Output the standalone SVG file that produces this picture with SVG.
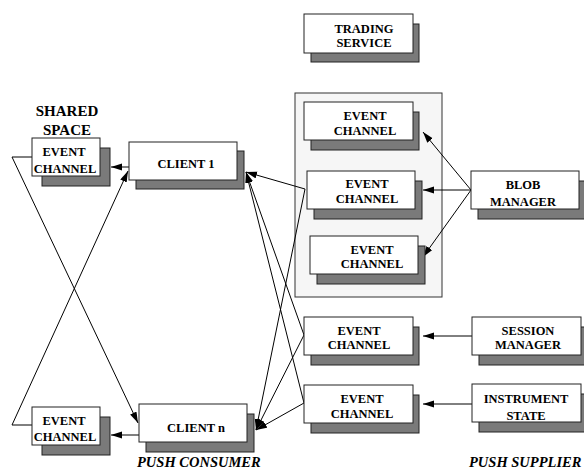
<svg xmlns="http://www.w3.org/2000/svg" width="584" height="473" viewBox="0 0 584 473">
<style>
.box{fill:#ffffff;stroke:#222222;stroke-width:1}
.sh{fill:#7a7a7a;stroke:#222222;stroke-width:1}
.t{font-family:"Liberation Serif","Times New Roman",serif;font-weight:bold;font-size:12.5px;fill:#000;text-anchor:middle}
.lbl{font-family:"Liberation Serif","Times New Roman",serif;font-weight:bold;font-style:italic;font-size:14.5px;fill:#000}
.ln{fill:none;stroke:#000;stroke-width:1}
</style>
<defs>
<marker id="ah" markerUnits="userSpaceOnUse" markerWidth="12" markerHeight="8" refX="11" refY="3.5" orient="auto">
<path d="M0,0 L11,3.5 L0,7 z" fill="#000"/>
</marker>
</defs>
<rect width="584" height="473" fill="#ffffff"/>
<g id="group-box">
<rect x="295" y="93" width="147" height="204" fill="#f6f6f6" stroke="#333333" stroke-width="1"/>
</g>
<g id="connectors">
<line class="ln" x1="129" y1="167" x2="111" y2="167" marker-end="url(#ah)"/>
<line class="ln" x1="139" y1="435" x2="111" y2="435" marker-end="url(#ah)"/>
<polyline class="ln" points="32,157 12,157 138,423" marker-end="url(#ah)"/>
<polyline class="ln" points="32,425 12,425 128,171" marker-end="url(#ah)"/>
<line class="ln" x1="471" y1="190" x2="423" y2="132" marker-end="url(#ah)"/>
<line class="ln" x1="471" y1="190" x2="423" y2="190" marker-end="url(#ah)"/>
<line class="ln" x1="471" y1="190" x2="423" y2="257" marker-end="url(#ah)"/>
<line class="ln" x1="472" y1="336" x2="423" y2="336" marker-end="url(#ah)"/>
<line class="ln" x1="472" y1="404" x2="423" y2="404" marker-end="url(#ah)"/>
<line class="ln" x1="305" y1="189" x2="246" y2="172" marker-end="url(#ah)"/>
<line class="ln" x1="305" y1="189" x2="256" y2="430" marker-end="url(#ah)"/>
<line class="ln" x1="304" y1="335" x2="246" y2="172" marker-end="url(#ah)"/>
<line class="ln" x1="304" y1="335" x2="256" y2="430" marker-end="url(#ah)"/>
<line class="ln" x1="304" y1="403" x2="246" y2="172" marker-end="url(#ah)"/>
<line class="ln" x1="304" y1="403" x2="256" y2="430" marker-end="url(#ah)"/>
</g>
<g id="trading-service">
<rect class="sh" x="311" y="24" width="108" height="38"/>
<rect class="box" x="304" y="14" width="109" height="39"/>
<text class="t" x="364" y="32.5">TRADING</text>
<text class="t" x="364" y="47">SERVICE</text>
</g>
<g id="ec1">
<rect class="sh" x="311" y="112" width="108" height="38"/>
<rect class="box" x="304" y="102" width="109" height="38"/>
<text class="t" x="365" y="120">EVENT</text>
<text class="t" x="365" y="134.5">CHANNEL</text>
</g>
<g id="ec2">
<rect class="sh" x="314" y="181" width="108" height="38"/>
<rect class="box" x="307" y="171" width="108" height="38"/>
<text class="t" x="367" y="188">EVENT</text>
<text class="t" x="367" y="202.5">CHANNEL</text>
</g>
<g id="ec3">
<rect class="sh" x="317" y="246" width="108" height="38"/>
<rect class="box" x="310" y="236" width="108" height="38"/>
<text class="t" x="372" y="253.5">EVENT</text>
<text class="t" x="372" y="268">CHANNEL</text>
</g>
<g id="blob-manager">
<rect class="sh" x="478" y="181" width="108" height="38"/>
<rect class="box" x="471" y="171" width="108" height="38"/>
<text class="t" x="523" y="189">BLOB</text>
<text class="t" x="523" y="206">MANAGER</text>
</g>
<g id="ec-session">
<rect class="sh" x="311" y="327" width="108" height="38"/>
<rect class="box" x="304" y="317" width="109" height="38"/>
<text class="t" x="359" y="334.5">EVENT</text>
<text class="t" x="359" y="349">CHANNEL</text>
</g>
<g id="session-manager">
<rect class="sh" x="479" y="327" width="108" height="38"/>
<rect class="box" x="472" y="317" width="109" height="38"/>
<text class="t" x="528" y="334.5">SESSION</text>
<text class="t" x="528" y="349">MANAGER</text>
</g>
<g id="ec-instrument">
<rect class="sh" x="311" y="395" width="108" height="38"/>
<rect class="box" x="304" y="385" width="109" height="38"/>
<text class="t" x="362" y="403">EVENT</text>
<text class="t" x="362" y="417.5">CHANNEL</text>
</g>
<g id="instrument-state">
<rect class="sh" x="479" y="394" width="108" height="38"/>
<rect class="box" x="472" y="384" width="109" height="38"/>
<text class="t" x="526" y="403">INSTRUMENT</text>
<text class="t" x="526" y="420">STATE</text>
</g>
<g id="shared-space">
<text class="t" x="67" y="116" style="font-size:15px">SHARED</text>
<text class="t" x="67" y="135" style="font-size:15px">SPACE</text>
</g>
<g id="ec-shared-top">
<rect class="sh" x="42" y="148" width="68" height="38"/>
<rect class="box" x="32" y="138" width="68" height="38"/>
<text class="t" x="64" y="156">EVENT</text>
<text class="t" x="65" y="173">CHANNEL</text>
</g>
<g id="client-1">
<rect class="sh" x="136" y="151" width="108" height="38"/>
<rect class="box" x="129" y="142" width="108" height="38"/>
<text class="t" x="186" y="168">CLIENT 1</text>
</g>
<g id="client-n">
<rect class="sh" x="146" y="414" width="108" height="38"/>
<rect class="box" x="139" y="404" width="108" height="38"/>
<text class="t" x="196" y="432">CLIENT n</text>
</g>
<g id="ec-shared-bottom">
<rect class="sh" x="42" y="417" width="68" height="38"/>
<rect class="box" x="32" y="407" width="68" height="38"/>
<text class="t" x="64" y="425">EVENT</text>
<text class="t" x="65" y="441">CHANNEL</text>
</g>
<g id="labels">
<text class="lbl" x="137" y="467">PUSH CONSUMER</text>
<text class="lbl" x="469" y="467">PUSH SUPPLIER</text>
</g>
</svg>
